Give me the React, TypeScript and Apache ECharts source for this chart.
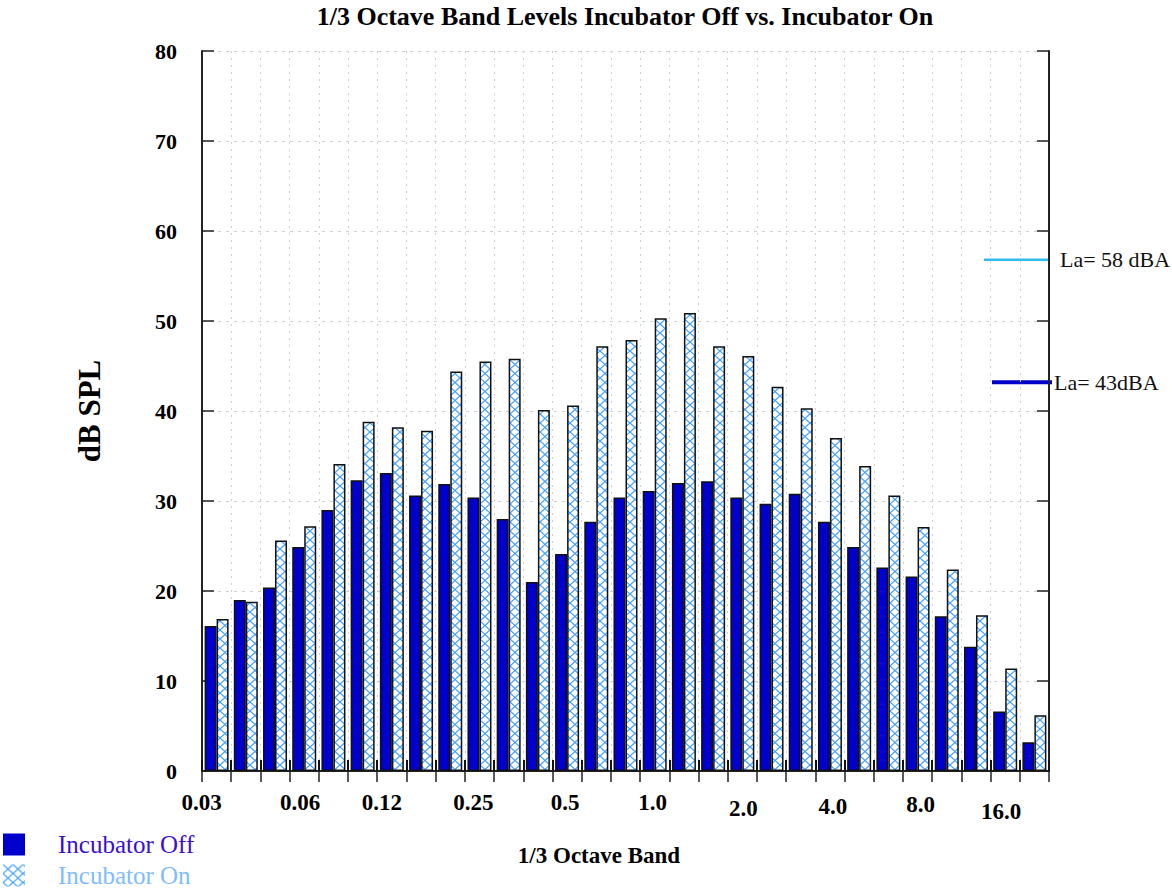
import React, { useEffect, useRef } from "react";
import * as echarts from "echarts";

// ---------- data ----------
const bands = [
  "0.03", "0.04", "0.05", "0.06", "0.08", "0.10", "0.12", "0.16", "0.20", "0.25",
  "0.315", "0.4", "0.5", "0.63", "0.8", "1.0", "1.25", "1.6", "2.0", "2.5",
  "3.15", "4.0", "5.0", "6.3", "8.0", "10.0", "12.5", "16.0", "20.0",
];
const offValues = [
  16.1, 19.0, 20.4, 24.9, 29.0, 32.3, 33.1, 30.6, 31.9, 30.4,
  28.0, 21.0, 24.1, 27.7, 30.4, 31.1, 32.0, 32.2, 30.4, 29.7,
  30.8, 27.7, 24.9, 22.6, 21.6, 17.2, 13.8, 6.6, 3.2,
];
const onValues = [
  16.9, 18.8, 25.6, 27.2, 34.1, 38.8, 38.2, 37.8, 44.4, 45.5,
  45.8, 40.1, 40.6, 47.2, 47.9, 50.3, 50.9, 47.2, 46.1, 42.7,
  40.3, 37.0, 33.9, 30.6, 27.1, 22.4, 17.3, 11.4, 6.2,
];
const seriesNames = ["Incubator Off", "Incubator On"];
const yMin = 0;
const yMax = 80;
const yStep = 10;
const laLevels = [56.8, 43.2];
const laLabels = ["La= 58 dBA", "La= 43dBA"];

// ---------- style ----------
const FONT = "'Liberation Serif', 'Times New Roman', serif";
const GRID = { left: 202, right: 123, top: 51, bottom: 117 };
const OFF_COLOR = "#0000cc";
const HATCH = "#3d9eff";
// per-label nudges [dx, dy] to mimic the original's uneven placement
const labelNudge: Record<string, [number, number]> = {
  "0.03": [-15, 0],
  "0.06": [-4, 0],
  "0.12": [-10, 0],
  "0.25": [-6, 0],
  "0.5": [-2, -3],
  "1.0": [-2, -4],
  "2.0": [1, 6],
  "4.0": [3, 4],
  "8.0": [3, 2],
  "16.0": [-4, 9],
};

const tileSvg =
  '<svg xmlns="http://www.w3.org/2000/svg" width="10" height="9">' +
  '<rect width="10" height="9" fill="#ffffff"/>' +
  '<path d="M0 0L10 9M10 0L0 9" stroke="' + HATCH + '" stroke-width="1.2" fill="none"/>' +
  "</svg>";
const hatchPattern = {
  image: "data:image/svg+xml;charset=utf-8," + encodeURIComponent(tileSvg),
  repeat: "repeat",
  imageWidth: 10,
  imageHeight: 9,
};

export default function App() {
  const ref = useRef<HTMLDivElement>(null);

  useEffect(() => {
    if (!ref.current) return;
    const chart = echarts.init(ref.current, null, { renderer: "svg" });

    const rich: Record<string, any> = {};
    Object.keys(labelNudge).forEach((k, i) => {
      const [dx, dy] = labelNudge[k];
      rich["n" + i] = {
        fontFamily: FONT,
        fontSize: 23,
        fontWeight: "bold",
        color: "#000",
        padding: [Math.max(dy, 0), dx < 0 ? -2 * dx : 0, Math.max(-dy, 0), dx > 0 ? 2 * dx : 0],
      };
    });
    const nudgeKeys = Object.keys(labelNudge);

    const option: any = {
      animation: false,
      backgroundColor: "#ffffff",
      grid: { ...GRID, containLabel: false },
      legend: {
        orient: "vertical",
        left: 3,
        top: 832,
        height: 60,
        padding: 0,
        itemWidth: 22,
        itemHeight: 22,
        itemGap: 6,
        icon: "rect",
        itemStyle: { borderWidth: 0 },
        textStyle: { fontFamily: FONT, fontSize: 25, lineHeight: 24, padding: [0, 0, 0, 28] },
        data: [
          { name: seriesNames[0], textStyle: { color: "#3a10d0" } },
          { name: seriesNames[1], textStyle: { color: "#7fbcff" } },
        ],
      },
      xAxis: [
        {
          type: "category",
          data: bands,
          position: "bottom",
          boundaryGap: true,
          axisLine: { show: true, lineStyle: { color: "#222", width: 2 } },
          axisTick: { show: true, inside: true, interval: 0, length: 11, lineStyle: { color: "#111", width: 2 } },
          axisLabel: {
            interval: 2,
            margin: 20,
            fontFamily: FONT,
            fontSize: 23,
            fontWeight: "bold",
            color: "#000",
            formatter: (v: string) => {
              const i = nudgeKeys.indexOf(v);
              return i >= 0 ? "{n" + i + "|" + v + "}" : v;
            },
            rich,
          },
          splitLine: { show: true, interval: 0, lineStyle: { color: "#cfcfcf", type: [2, 5], width: 1 } },
        },
        {
          type: "category",
          data: bands,
          position: "top",
          boundaryGap: true,
          axisLine: { show: true, lineStyle: { color: "#222", width: 2 } },
          axisTick: { show: true, inside: true, interval: 0, length: 11, lineStyle: { color: "#222", width: 1.5 } },
          axisLabel: { show: false },
          splitLine: { show: false },
        },
      ],
      yAxis: [
        {
          type: "value",
          min: yMin,
          max: yMax,
          interval: yStep,
          position: "left",
          axisLine: { show: true, lineStyle: { color: "#222", width: 2 } },
          axisTick: { show: true, inside: true, length: 12, lineStyle: { color: "#222", width: 1.5 } },
          axisLabel: { margin: 25, fontFamily: FONT, fontSize: 22, fontWeight: "bold", color: "#000" },
          splitLine: { show: true, lineStyle: { color: "#cfcfcf", type: [3, 5], width: 1 } },
        },
        {
          type: "value",
          min: yMin,
          max: yMax,
          interval: yStep,
          position: "right",
          axisLine: { show: true, lineStyle: { color: "#222", width: 2 } },
          axisTick: { show: true, inside: true, length: 12, lineStyle: { color: "#222", width: 1.5 } },
          axisLabel: { show: false },
          splitLine: { show: false },
        },
      ],
      series: [
        {
          name: seriesNames[0],
          type: "bar",
          data: offValues,
          barWidth: 12,
          barGap: "0%",
          itemStyle: { color: OFF_COLOR, borderColor: "#111", borderWidth: 1.5 },
        },
        {
          name: seriesNames[1],
          type: "bar",
          data: onValues,
          barWidth: 12,
          barGap: "0%",
          itemStyle: { color: hatchPattern, borderColor: "#111", borderWidth: 1.5 },
        },
      ],
      graphic: [
        {
          type: "text",
          x: 625,
          y: 16,
          style: {
            text: "1/3 Octave Band Levels Incubator Off vs. Incubator On",
            fontFamily: FONT,
            fontSize: 26,
            fontWeight: "bold",
            fill: "#000",
            align: "center",
            verticalAlign: "middle",
          },
        },
        {
          type: "text",
          x: 89,
          y: 411,
          rotation: Math.PI / 2,
          style: {
            text: "dB SPL",
            fontFamily: FONT,
            fontSize: 31,
            fontWeight: "bold",
            fill: "#000",
            align: "center",
            verticalAlign: "middle",
          },
        },
        {
          type: "text",
          x: 599,
          y: 855,
          style: {
            text: "1/3 Octave Band",
            fontFamily: FONT,
            fontSize: 23,
            fontWeight: "bold",
            fill: "#000",
            align: "center",
            verticalAlign: "middle",
          },
        },
      ],
    };

    chart.setOption(option);

    // La annotations placed through the value axis scale
    const lastCenter = chart.convertToPixel({ xAxisIndex: 0 }, bands[bands.length - 1]) as number;
    const firstCenter = chart.convertToPixel({ xAxisIndex: 0 }, bands[0]) as number;
    const band = (lastCenter - firstCenter) / (bands.length - 1);
    const xR = lastCenter + band / 2;
    const y0 = chart.convertToPixel({ yAxisIndex: 0 }, laLevels[0]) as number;
    const y1 = chart.convertToPixel({ yAxisIndex: 0 }, laLevels[1]) as number;
    chart.setOption({
      graphic: [
        ...option.graphic,
        {
          type: "line",
          shape: { x1: xR - 65, y1: y0, x2: xR, y2: y0 },
          style: { stroke: "#2fbcef", lineWidth: 2.5 },
        },
        {
          type: "text",
          x: xR + 11,
          y: y0,
          style: { text: laLabels[0], fontFamily: FONT, fontSize: 22, fill: "#111", align: "left", verticalAlign: "middle" },
        },
        {
          type: "line",
          shape: { x1: xR - 57, y1: y1, x2: xR + 3, y2: y1 },
          style: { stroke: OFF_COLOR, lineWidth: 4 },
        },
        {
          type: "text",
          x: xR + 5,
          y: y1,
          style: { text: laLabels[1], fontFamily: FONT, fontSize: 22, fill: "#111", align: "left", verticalAlign: "middle" },
        },
      ],
    });

    return () => chart.dispose();
  }, []);

  return (
    <div
      ref={ref}
      style={{ position: "fixed", left: 0, top: 0, width: 1172, height: 888, background: "#fff" }}
    />
  );
}
